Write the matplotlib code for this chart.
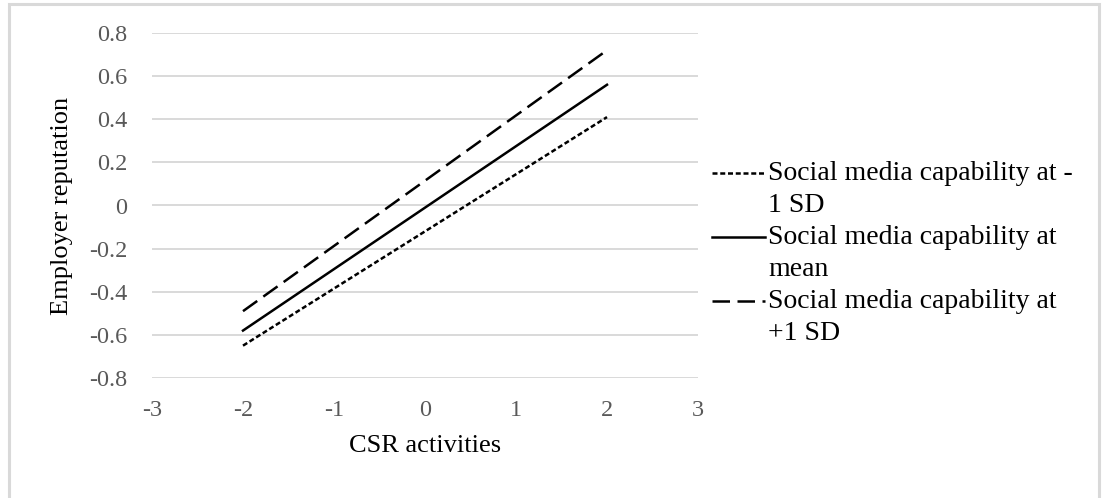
import matplotlib
matplotlib.use("Agg")
import matplotlib.pyplot as plt
from matplotlib.lines import Line2D
from matplotlib.patches import Rectangle

# Data
csr = [-2, 2]
low_sd = [-0.65, 0.41]
mean_sd = [-0.58, 0.56]
high_sd = [-0.49, 0.72]
labels = ["Social media capability at -\n1 SD",
          "Social media capability at\nmean",
          "Social media capability at\n+1 SD"]
xticks = [-3, -2, -1, 0, 1, 2, 3]
yticks = [-0.8, -0.6, -0.4, -0.2, 0, 0.2, 0.4, 0.6, 0.8]

W, H = 1104, 498
fig = plt.figure(figsize=(W / 100, H / 100), dpi=100)
plt.rcParams['font.family'] = ['Liberation Serif', 'DejaVu Serif']

def fx(px):
    return px / W

def fy(py):
    return 1 - py / H

ax = fig.add_axes([fx(152), fy(378), fx(698) - fx(152), fy(33) - fy(378)])

lw = 1.8
styles = [dict(color='black', lw=lw, linestyle=(0, (2.0, 1.1)), dash_capstyle='butt'),
          dict(color='black', lw=lw, linestyle='-'),
          dict(color='black', lw=lw, linestyle=(0, (7, 3)), dash_capstyle='butt')]
series = [low_sd, mean_sd, high_sd]
for ys, st in zip(series, styles):
    ax.plot(csr, ys, **st, zorder=3)

ax.set_xlim(-3, 3)
ax.set_ylim(-0.8, 0.8)
ax.set_xticks(xticks)
ax.set_yticks(yticks)
ax.set_xticklabels([str(t) for t in xticks])
ax.set_yticklabels(["0" if t == 0 else f"{t:.1f}" for t in yticks])
ax.grid(axis='y', color='#d9d9d9', lw=1.4)
ax.set_axisbelow(True)
for s in ax.spines.values():
    s.set_visible(False)
ax.tick_params(axis='both', length=0, labelsize=17.5, labelcolor='#595959')
ax.tick_params(axis='y', pad=18)
ax.tick_params(axis='x', pad=15.5)

ax.set_xlabel("CSR activities", fontsize=19, labelpad=10.5)
ax.set_ylabel("Employer reputation", fontsize=19, labelpad=11)

# Legend (drawn manually to align handles with first label line)
rows = [173, 237, 301]
for y0, lab, st in zip(rows, labels, styles):
    fig.add_artist(Line2D([fx(712), fx(765)], [fy(y0), fy(y0)], transform=fig.transFigure, **st))
    l1, l2 = lab.split("\n")
    fig.text(fx(768), fy(y0), l1, fontsize=20, va='center', ha='left')
    fig.text(fx(768), fy(y0 + 32), l2, fontsize=20, va='center', ha='left')

# Chart border
fig.add_artist(Rectangle((fx(9), fy(H + 20)), fx(1099) - fx(9), fy(4) - fy(H + 20),
                         transform=fig.transFigure, fill=False, edgecolor='#d9d9d9', lw=2.2))

fig.savefig("out.png", dpi=100)
